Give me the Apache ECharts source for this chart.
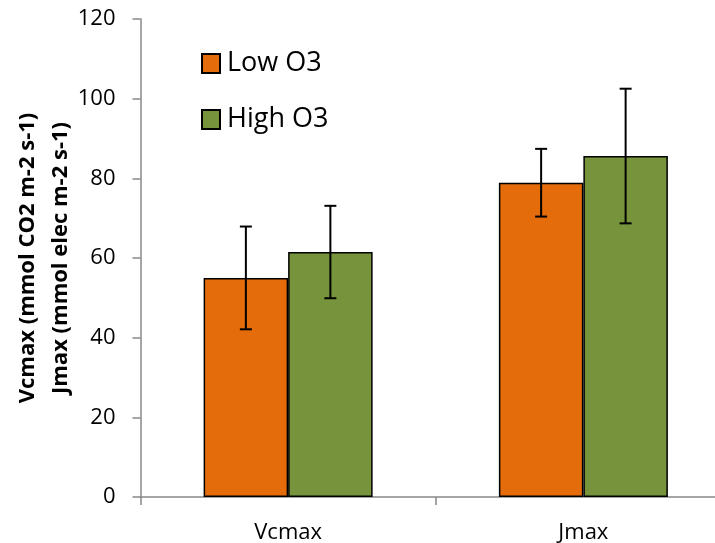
<!DOCTYPE html>
<html>
<head>
<meta charset="utf-8">
<script src="https://cdn.jsdelivr.net/npm/echarts@6/dist/echarts.min.js"></script>
<style>
  html, body { margin: 0; padding: 0; background: #fff; }
  #chart { width: 715px; height: 543px; }
</style>
</head>
<body>
<div id="chart"></div>
<script>
// Photosynthetic capacity under low and high ozone
const categories = ['Vcmax', 'Jmax'];
const seriesNames = ['Low O3', 'High O3'];
const lowO3 = [55.0, 78.9];
const highO3 = [61.5, 85.6];
const lowO3Err = [12.9, 8.5];
const highO3Err = [11.6, 16.9];
const yAxisTitle = 'Vcmax (mmol CO2 m-2 s-1)\nJmax (mmol elec m-2 s-1)';

const BAR_WIDTH = 84.5;
const CAP_HALF = 6;
const FONT = '"Open Sans", sans-serif';

function errorData(values, errs) {
  return values.map((v, i) => [i, v, errs[i]]);
}

// Draws a vertical whisker with caps, shifted to sit on its bar
function makeErrorRender(offset) {
  return function (params, api) {
    const x = api.value(0);
    const v = api.value(1);
    const e = api.value(2);
    const hi = api.coord([x, v + e]);
    const lo = api.coord([x, v - e]);
    const cx = hi[0] + offset;
    const style = { stroke: '#000', lineWidth: 2 };
    return {
      type: 'group',
      children: [
        { type: 'line', shape: { x1: cx, y1: hi[1], x2: cx, y2: lo[1] }, style },
        { type: 'line', shape: { x1: cx - CAP_HALF, y1: hi[1], x2: cx + CAP_HALF, y2: hi[1] }, style },
        { type: 'line', shape: { x1: cx - CAP_HALF, y1: lo[1], x2: cx + CAP_HALF, y2: lo[1] }, style }
      ]
    };
  };
}

const chart = echarts.init(document.getElementById('chart'), null, { renderer: 'canvas' });

chart.setOption({
  animation: false,
  backgroundColor: '#fff',
  grid: {
    left: 140.5, top: 19, bottom: 46, right: -16,
    containLabel: false,
    outerBoundsMode: 'none'
  },
  legend: {
    orient: 'vertical',
    left: 201,
    top: 50,
    padding: 0,
    data: seriesNames,
    icon: 'rect',
    itemWidth: 18,
    itemHeight: 19,
    itemGap: 29,
    textStyle: { fontFamily: FONT, fontSize: 27, color: '#000', lineHeight: 25, padding: [0, 0, 0, 2] }
  },
  xAxis: {
    type: 'category',
    data: categories,
    axisLine: { lineStyle: { color: '#888', width: 1.5 } },
    axisTick: { show: true, length: 8, lineStyle: { color: '#888', width: 1.5 } },
    axisLabel: { fontFamily: FONT, fontSize: 22, color: '#000', margin: 25 },
    splitLine: { show: false }
  },
  yAxis: {
    type: 'value',
    min: 0,
    max: 120,
    interval: 20,
    name: yAxisTitle,
    nameLocation: 'middle',
    nameRotate: 90,
    nameGap: 63,
    nameMoveOverlap: false,
    nameTextStyle: { fontFamily: FONT, fontSize: 22, fontWeight: 'bold', color: '#000', lineHeight: 33, align: 'center' },
    axisLine: { show: true, lineStyle: { color: '#888', width: 1.5 } },
    axisTick: { show: true, length: 8, lineStyle: { color: '#888', width: 1.5 } },
    axisLabel: { fontFamily: FONT, fontSize: 22, color: '#000', margin: 25 },
    splitLine: { show: false }
  },
  series: [
    {
      name: seriesNames[0],
      type: 'bar',
      data: lowO3,
      barWidth: BAR_WIDTH,
      barGap: '0%',
      itemStyle: { color: '#E46C0A', borderColor: '#000', borderWidth: 1.5 }
    },
    {
      name: seriesNames[1],
      type: 'bar',
      data: highO3,
      barWidth: BAR_WIDTH,
      barGap: '0%',
      itemStyle: { color: '#77933C', borderColor: '#000', borderWidth: 1.5 }
    },
    {
      name: 'Low O3 error',
      type: 'custom',
      data: errorData(lowO3, lowO3Err),
      encode: { x: 0, y: 1 },
      renderItem: makeErrorRender(-BAR_WIDTH / 2),
      z: 10,
      silent: true
    },
    {
      name: 'High O3 error',
      type: 'custom',
      data: errorData(highO3, highO3Err),
      encode: { x: 0, y: 1 },
      renderItem: makeErrorRender(BAR_WIDTH / 2),
      z: 10,
      silent: true
    }
  ]
});
</script>
</body>
</html>
